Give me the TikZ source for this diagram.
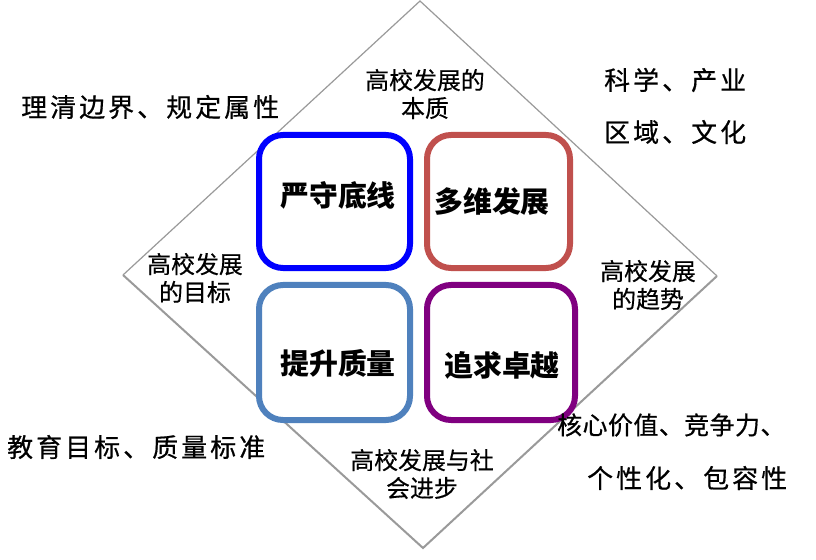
\documentclass[tikz,border=0pt]{standalone}
\usepackage{fontspec}
\newfontfamily\cjk{Noto Sans CJK SC}
\newfontfamily\cjklab[FakeBold=0.4]{Noto Sans CJK SC}
\newfontfamily\cjkwide[LetterSpace=12,FakeBold=0.6]{Noto Sans CJK SC}
\newfontfamily\cjknarrow[LetterSpace=2,FakeBold=0.6]{Noto Sans CJK SC}
\definecolor{cblue}{HTML}{0000FF}
\definecolor{cred}{HTML}{C0504D}
\definecolor{clblue}{HTML}{4F81BD}
\definecolor{cpurple}{HTML}{800080}
\definecolor{cgray}{HTML}{9A9A9A}
\begin{document}
\begin{tikzpicture}[x=1bp,y=-1bp,
  box/.style={draw, line width=6bp, rounded corners=24bp, inner sep=0pt, fill=white},
  boxtext/.style={inner sep=0pt, font=\cjk\bfseries\fontsize{29}{32}\selectfont},
  lab/.style={inner sep=0pt, align=center, font=\cjklab\fontsize{24}{28}\selectfont},
  side/.style={inner sep=0pt, anchor=west, font=\cjkwide\fontsize{26}{28}\selectfont},
  sidenarrow/.style={inner sep=0pt, anchor=west, font=\cjknarrow\fontsize{25}{28}\selectfont}]
\useasboundingbox (0,0) rectangle (816,560);
\fill[white] (0,0) rectangle (816,560);
% diamond
\coordinate (T) at (420,1);
\coordinate (R) at (717,276);
\coordinate (B) at (423,548);
\coordinate (L) at (123,275);
\draw[cgray, line width=1.2bp] (L) -- (T) -- (R);
\draw[cgray, line width=2bp, line join=miter] (R) -- (B) -- (L);
% boxes
\node[box, draw=cblue, minimum width=151bp, minimum height=133bp] (b1) at (334.5,201.5) {};
\node[box, draw=cred, minimum width=143bp, minimum height=133bp] (b2) at (498.5,201.5) {};
\node[box, draw=clblue, minimum width=151bp, minimum height=135bp] (b3) at (334.5,352.5) {};
\node[box, draw=cpurple, minimum width=148bp, minimum height=135bp] (b4) at (501,352.5) {};
\node[boxtext] (t1) at (338,195) {严守底线};
\node[boxtext] (t2) at (492,202) {多维发展};
\node[boxtext] (t3) at (338,363) {提升质量};
\node[boxtext] (t4) at (502,365) {追求卓越};
% diamond labels
\node[lab] (top) at (425,94) {高校发展的\\本质};
\node[lab] (left) at (195,278) {高校发展\\的目标};
\node[lab] (right) at (648,285) {高校发展\\的趋势};
\node[lab] (bottom) at (422,474) {高校发展与社\\会进步};
% outer labels
\node[side] (s1) at (21,107) {理清边界、规定属性};
\node[side] (s2) at (604,80) {科学、产业};
\node[side] (s3) at (604,132) {区域、文化};
\node[side] (s4) at (7,447) {教育目标、质量标准};
\node[sidenarrow] (s5) at (557,425) {核心价值、竞争力、};
\node[side] (s6) at (587,478) {个性化、包容性};
\end{tikzpicture}
\end{document}
